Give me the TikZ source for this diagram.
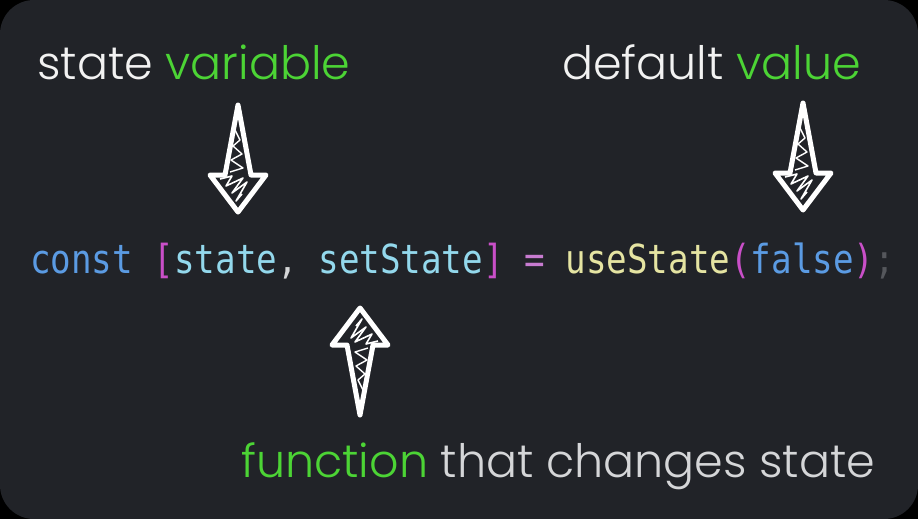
\documentclass[tikz,border=0pt]{standalone}
\usepackage{fontspec}
\usepackage{xcolor}
\usepackage{tikz}
\usetikzlibrary{positioning}
\newfontfamily\lblfont{Poppins Light}
\newfontfamily\codefont{DejaVu Sans Mono}[FakeStretch=0.855]
\definecolor{bg}{HTML}{212328}
\definecolor{txtwhite}{HTML}{F2F2F2}
\definecolor{txtgrey}{HTML}{D5D6D8}
\definecolor{hlgreen}{HTML}{4CD435}
\definecolor{kwblue}{HTML}{5B9BE3}
\definecolor{brmag}{HTML}{C94FC8}
\definecolor{varcyan}{HTML}{93D8EC}
\definecolor{eqpink}{HTML}{C77BD0}
\definecolor{fnyel}{HTML}{E5E4A2}
\definecolor{semigrey}{HTML}{55575C}
\tikzset{
  lbl/.style = {font=\lblfont\fontsize{46}{46}\selectfont, text=txtwhite, inner sep=0pt, anchor=base west},
  code/.style = {font=\codefont\fontsize{40}{40}\selectfont, inner sep=0pt, anchor=base west},
  sketchy arrow/.pic = {
    \draw[white, line width=5pt, line join=round] (0,0) -- (28,-37) -- (13,-37) -- (0,-107) -- (-13,-37) -- (-28,-37) -- cycle;
    \draw[white, line width=1.6pt, line join=round] (-18,-33) -- (-6,-36) -- (-12,-26) -- (5,-34) -- (-6,-19) -- (9,-30) -- (-2,-11) -- (4,-18);
    \draw[white, line width=1.4pt, line join=round] (-8,-40) -- (5,-44) -- (-7,-52) -- (4,-58) -- (-5,-66) -- (2,-72) -- (-3,-82);
  }
}

\begin{document}
\begin{tikzpicture}[x=1pt, y=-1pt]
    \fill[black] (0,0) rectangle (918,519);
    \fill[bg, rounded corners=34pt] (0,0) rectangle (918,519);

    \node[lbl] (var) at (37,79) {state \textcolor{hlgreen}{variable}};
    \node[lbl] (def) at (562,80) {default \textcolor{hlgreen}{value}};
    \node[lbl, text=txtgrey] (fun) at (241,477) {\textcolor{hlgreen}{function} that changes state};

    \node[code] (code) at (30,273) {\textcolor{kwblue}{const} \textcolor{brmag}{[}\textcolor{varcyan}{state}\textcolor{txtgrey}{,} \textcolor{varcyan}{setState}\textcolor{brmag}{]} \textcolor{eqpink}{=} \textcolor{fnyel}{useState}\textcolor{brmag}{(}\textcolor{kwblue}{false}\textcolor{brmag}{)}\textcolor{semigrey}{;}};

    \coordinate (tipvar) at (238,212);
    \coordinate (tipdef) at (803,210);
    \coordinate (tipfun) at (360,308);
    \pic at (tipvar) {sketchy arrow};
    \pic at (tipdef) {sketchy arrow};
    \pic[rotate=180] at (tipfun) {sketchy arrow};
\end{tikzpicture}
\end{document}
